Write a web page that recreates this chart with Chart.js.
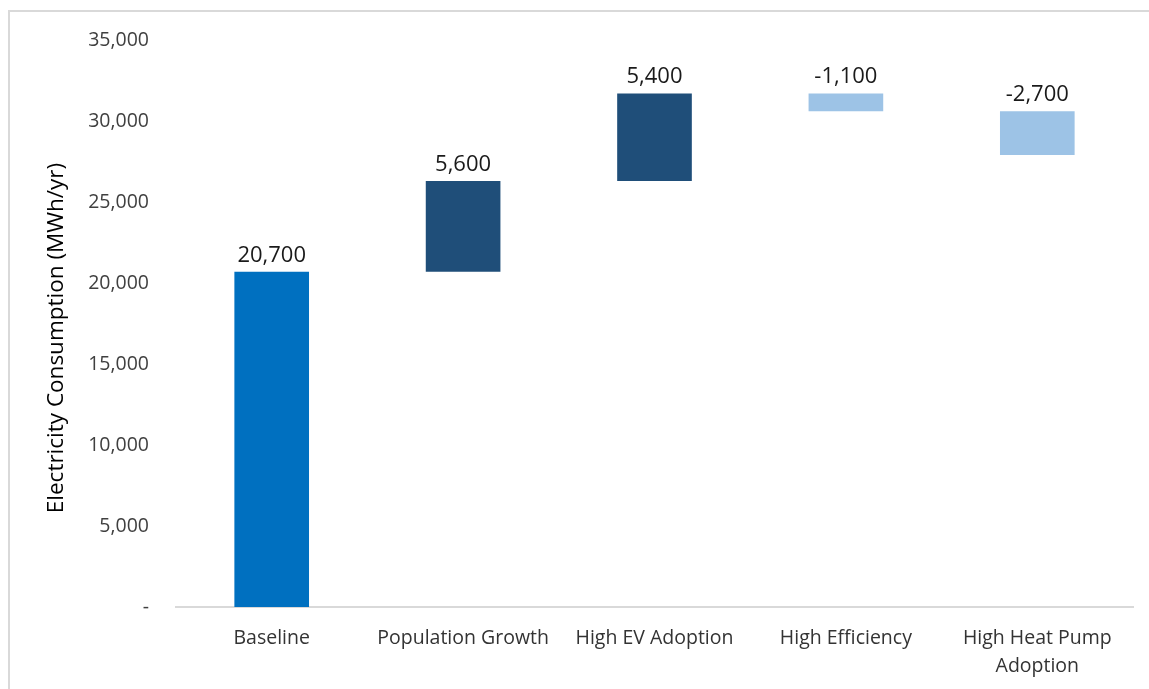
<!DOCTYPE html>
<html>
<head>
<meta charset="utf-8">
<script src="https://cdn.jsdelivr.net/npm/chart.js@4.4.1/dist/chart.umd.min.js"></script>
<style>
  html, body { margin: 0; padding: 0; background: #fff; overflow: hidden; }
  #frame { position: absolute; left: 8px; top: 10px; width: 1200px; height: 760px; border: 2px solid #d9d9d9; box-sizing: border-box; }
  #wrap { position: absolute; left: 0; top: 0; width: 1149px; height: 689px; }
</style>
</head>
<body>
<div id="frame"></div>
<div id="wrap"><canvas id="c" width="1149" height="689"></canvas></div>
<script>
const categories = ['Baseline', ['Population Growth'], ['High EV Adoption'], ['High Efficiency'], ['High Heat Pump', 'Adoption']];
const barStart = [0, 20700, 26300, 31700, 30600];
const barEnd   = [20700, 26300, 31700, 30600, 27900];
const labels   = ['20,700', '5,600', '5,400', '-1,100', '-2,700'];
const barColors = ['#0070C0', '#1F4E79', '#1F4E79', '#9DC3E6', '#9DC3E6'];
const yTicks = [0, 5000, 10000, 15000, 20000, 25000, 30000, 35000];
const yTitle = 'Electricity Consumption (MWh/yr)';

const FONT = "'Open Sans', sans-serif";

const valueLabels = {
  id: 'valueLabels',
  afterDatasetsDraw(chart) {
    const ctx = chart.ctx;
    const meta = chart.getDatasetMeta(0);
    ctx.save();
    ctx.font = "22px " + FONT;
    ctx.fillStyle = '#1a1a1a';
    ctx.textAlign = 'center';
    ctx.textBaseline = 'alphabetic';
    meta.data.forEach((bar, i) => {
      const top = Math.min(bar.y, bar.base);
      ctx.fillText(labels[i], bar.x, top - 10);
    });
    ctx.restore();
  }
};

const axisTitle = {
  id: 'axisTitle',
  afterDraw(chart) {
    const ctx = chart.ctx;
    ctx.save();
    ctx.translate(57, 338);
    ctx.rotate(-Math.PI / 2);
    ctx.font = "22.5px " + FONT;
    ctx.fillStyle = '#000';
    ctx.textAlign = 'center';
    ctx.textBaseline = 'middle';
    ctx.fillText(yTitle, 0, 0);
    ctx.restore();
  }
};

new Chart(document.getElementById('c'), {
  type: 'bar',
  data: {
    labels: categories,
    datasets: [{
      data: barStart.map((s, i) => [s, barEnd[i]]),
      backgroundColor: barColors,
      borderWidth: 0,
      barPercentage: 0.39,
      categoryPercentage: 1.0
    }]
  },
  options: {
    responsive: false,
    animation: false,
    devicePixelRatio: 1,
    layout: { padding: { left: 46, right: 16, top: 40, bottom: 0 } },
    plugins: { legend: { display: false }, tooltip: { enabled: false } },
    scales: {
      x: {
        grid: { display: false, drawTicks: false },
        border: { display: true, color: '#d9d9d9', width: 2 },
        ticks: { color: '#333333', font: { family: FONT, size: 19.5, lineHeight: 1.44 }, padding: 17, maxRotation: 0, autoSkip: false },
        afterFit(scale) { scale.height = 82; }
      },
      y: {
        min: 0, max: 35000,
        afterBuildTicks(scale) { scale.ticks = yTicks.map(v => ({ value: v })); },
        grid: { display: false, drawTicks: false },
        border: { display: false },
        ticks: {
          color: '#404040',
          font: { family: FONT, size: 19.5 },
          padding: 27,
          callback(v) { return v === 0 ? '-' : v.toLocaleString('en-US'); }
        },
        title: { display: false },
        afterFit(scale) { scale.width = 130; }
      }
    }
  },
  plugins: [valueLabels, axisTitle]
});
</script>
</body>
</html>
